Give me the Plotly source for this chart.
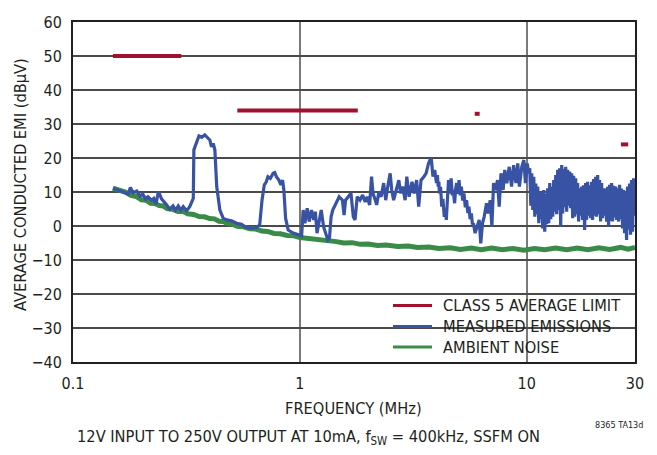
import plotly.graph_objects as go

# ---------------- data ----------------
# CISPR-25 class 5 average limit segments (MHz, dBuV)
limit_f_start = [0.15, 0.53, 5.9, 26.0]
limit_f_end = [0.30, 1.8, 6.2, 28.0]
limit_db = [50, 34, 33, 24]

# Ambient noise
ambient_f = [0.150, 0.160, 0.170, 0.180, 0.190, 0.200, 0.210, 0.220, 0.230, 0.240,
             0.250, 0.260, 0.275, 0.290, 0.305, 0.320, 0.340, 0.360, 0.380, 0.400,
             0.420, 0.440, 0.460, 0.480, 0.500, 0.530, 0.560, 0.600, 0.640, 0.680,
             0.720, 0.770, 0.820, 0.880, 0.940, 1.000, 1.080, 1.160, 1.250, 1.350,
             1.450, 1.560, 1.700, 1.850, 2.000, 2.200, 2.400, 2.700, 3.000, 3.300,
             3.700, 4.100, 4.600, 5.100, 5.700, 6.300, 7.000, 7.800, 8.700, 9.700,
             10.8, 12.0, 13.4, 15.0, 16.7, 18.6, 20.8, 23.2, 25.9, 28.0, 30.0]
ambient_db = [11.1, 10.5, 10.0, 9.0, 8.7, 7.7, 7.6, 6.7, 6.6, 6.0,
              5.9, 5.1, 4.9, 4.3, 4.3, 3.6, 3.4, 2.8, 2.7, 2.2,
              2.1, 1.4, 1.3, 0.7, 0.6, -0.1, -0.2, -0.8, -0.9, -1.5,
              -1.6, -2.2, -2.3, -2.8, -2.9, -3.4, -3.6, -4.0, -4.1, -4.5,
              -4.6, -5.0, -4.9, -5.4, -5.3, -5.7, -5.6, -6.0, -5.9, -6.3,
              -6.2, -6.6, -6.4, -6.9, -6.5, -7.0, -6.5, -7.0, -6.6, -7.1,
              -6.6, -7.0, -6.5, -7.0, -6.5, -7.0, -6.4, -6.9, -6.3, -6.8, -6.3]

# Measured emissions, read piecewise
emis_f_1 = [0.150, 0.175, 0.179, 0.184, 0.191, 0.197, 0.203, 0.209, 0.214, 0.222, 0.227, 0.232,
            0.238, 0.246, 0.259, 0.267, 0.276, 0.283, 0.291, 0.299, 0.306, 0.317, 0.327, 0.339]
emis_db_1 = [11.1, 9.4, 11.3, 9.8, 10.3, 8.8, 9.4, 7.9, 8.6, 7.6, 8.1, 6.4,
             10.1, 7.9, 6.2, 4.9, 5.9, 4.7, 5.9, 4.7, 5.7, 4.5, 5.7, 8.1]
emis_f_2 = [0.341, 0.354, 0.359, 0.369, 0.381, 0.390, 0.401, 0.408, 0.415, 0.422, 0.430,
            0.444, 0.459, 0.476, 0.500, 0.526, 0.553, 0.572, 0.592, 0.613, 0.643, 0.665]
emis_db_2 = [22.4, 25.3, 26.5, 26.1, 26.8, 26.1, 25.3, 23.3, 24.3, 22.4, 11.6,
             4.7, 2.3, 1.8, 1.5, 0.8, 0.5, -0.2, -0.5, -0.7, -0.5, 0.3]
emis_f_3 = [0.681, 0.697, 0.711, 0.723, 0.741, 0.762, 0.775, 0.788, 0.808, 0.825, 0.839,
            0.850, 0.865, 0.888, 0.935, 0.984, 1.018]
emis_db_3 = [7.6, 12.1, 13.0, 14.5, 14.0, 15.5, 15.7, 14.5, 13.5, 12.1, 13.5,
             10.6, 2.3, -1.2, -2.1, -2.6, -2.9]
emis_f_4 = [1.034, 1.052, 1.077, 1.099, 1.125, 1.151, 1.170, 1.190, 1.223, 1.242, 1.272,
            1.298, 1.328, 1.350, 1.373, 1.396, 1.443]
emis_db_4 = [4.7, 0.8, 5.2, 1.3, 4.7, 1.8, 4.2, -2.1, 2.3, 4.7, -0.2,
             -2.1, -4.1, -3.6, 2.7, 4.7, 6.7]
emis_f_5 = [1.490, 1.540, 1.566, 1.590, 1.640, 1.680, 1.720, 1.750, 1.790, 1.840,
            1.890, 1.940, 1.980, 2.030, 2.070, 2.100, 2.150, 2.180, 2.230, 2.280,
            2.340, 2.390, 2.440, 2.500, 2.540, 2.590, 2.660, 2.730, 2.780, 2.840,
            2.910, 2.960]
emis_db_5 = [8.6, 7.6, 3.2, 7.6, 8.6, 9.6, 2.7, 1.8, 8.6, 7.6,
             9.1, 7.1, 8.6, 6.2, 14.5, 9.6, 7.6, 6.2, 10.1, 8.6,
             12.6, 7.6, 11.6, 15.5, 10.6, 7.6, 10.6, 13.5, 9.6, 11.6,
             7.6, 14.5]
emis_f_6 = [3.030, 3.120, 3.190, 3.270, 3.340, 3.420, 3.520, 3.600, 3.690, 3.770,
            3.800, 3.860, 3.930, 4.000, 4.040, 4.070, 4.100, 4.120, 4.170, 4.220,
            4.270, 4.330, 4.380, 4.420]
emis_db_6 = [8.6, 13.0, 9.6, 13.5, 5.7, 13.5, 14.5, 15.5, 18.4, 19.9,
             19.4, 14.5, 16.5, 12.6, 15.0, 11.6, 13.0, 9.6, 11.5, 5.7,
             8.0, 2.7, 5.0, 1.8]
emis_f_7 = [4.520, 4.580, 4.640, 4.700, 4.740, 4.810, 4.860, 4.910, 4.970, 5.030,
            5.090, 5.150, 5.220, 5.290, 5.360, 5.430, 5.500, 5.560, 5.630, 5.700,
            5.760, 5.820, 5.920, 6.060, 6.170, 6.270, 6.380, 6.490, 6.570, 6.650,
            6.760, 6.900, 7.020]
emis_db_7 = [13.5, 9.5, 14.0, 9.0, 10.6, 6.7, 11.0, 12.6, 9.5, 13.5,
             9.0, 11.6, 7.5, 9.6, 5.5, 7.6, 3.8, 5.7, 2.0, 3.7,
             0.5, 0.8, -2.1, -0.2, 1.8, -5.1, 0.8, 2.7, 5.0, 6.7,
             3.7, 7.6, -0.2]
emis_f_8 = [7.140, 7.310, 7.430, 7.560, 7.700, 7.870, 8.000, 8.170, 8.370, 8.570,
            8.750, 8.960, 9.130, 9.280, 9.510, 9.710, 9.870, 10.05, 10.20]
emis_db_8 = [12.6, 10.6, 13.5, 5.7, 15.5, 10.6, 16.5, 12.6, 17.4, 11.6,
             17.9, 12.6, 18.4, 11.6, 17.4, 19.4, 12.6, 18.4, 15.5]
emis_f_9 = [10.31, 10.42, 10.52, 10.63, 10.74, 10.85, 10.96, 11.07, 11.18, 11.30,
            11.41, 11.53, 11.64, 11.76, 11.88, 12.00, 12.13, 12.25, 12.37, 12.50,
            12.63, 12.76, 12.89, 13.02, 13.15, 13.28, 13.42, 13.55, 13.69, 13.83,
            13.97, 14.11, 14.26, 14.40, 14.55, 14.70, 14.85, 15.00, 15.15, 15.30,
            15.46, 15.62, 15.78, 15.94, 16.10, 16.26, 16.43, 16.59, 16.76, 16.93,
            17.11, 17.28, 17.46, 17.63, 17.81, 17.99, 18.18, 18.36, 18.55, 18.74,
            18.93, 19.12, 19.32, 19.51, 19.71, 19.91, 20.12, 20.32, 20.53, 20.74,
            20.95, 21.16, 21.38, 21.60, 21.82, 22.04, 22.26, 22.49, 22.72, 22.95,
            23.18, 23.42, 23.66, 23.90, 24.14, 24.39, 24.64, 24.89, 25.14, 25.40,
            25.66, 25.92, 26.18, 26.45, 26.72, 26.99, 27.26, 27.54, 27.82, 28.11,
            28.39, 28.68, 28.97, 29.27, 29.57, 29.87]
emis_db_9 = [17.0, 6.0, 15.5, 4.7, 14.5, 2.7, 12.5, 3.5, 11.6, 0.8,
             9.6, 2.0, 10.0, -0.7, 10.6, -1.7, 9.5, 0.5, 11.1, 0.8,
             12.6, 2.0, 11.5, 2.7, 13.5, 4.2, 15.0, 3.5, 16.5, 4.7,
             17.0, -0.2, 17.9, 3.7, 16.8, 5.5, 17.4, 4.2, 16.5, 6.0,
             16.0, 5.2, 15.5, 2.3, 14.8, 2.7, 14.0, 3.5, 12.6, 1.3,
             11.1, 3.0, 11.6, 1.8, 12.0, -1.2, 12.6, 1.8, 13.0, 3.0,
             12.0, 2.3, 13.0, 1.8, 13.8, 3.0, 14.5, 2.7, 15.0, 3.5,
             13.5, 1.3, 12.6, 2.3, 11.1, 3.0, 11.0, 1.3, 11.5, -0.2,
             12.1, 1.5, 12.6, 1.3, 11.8, 2.5, 11.6, 1.8, 11.1, 1.3,
             12.1, 2.0, 11.0, -0.7, 10.6, -2.1, 10.1, -4.1, 11.6, -1.0,
             12.5, -2.6, 13.5, -1.7, 14.0, 3.0]

x_tick_vals = [0.1, 1, 10, 30]
x_tick_text = ["0.1", "1", "10", "30"]

legend_names = ["CLASS 5 AVERAGE LIMIT", "MEASURED EMISSIONS", "AMBIENT NOISE"]

# ---------------- styling ----------------
FONT = "'Liberation Sans Narrow', 'DejaVu Sans Condensed', 'Roboto Condensed', 'Arial Narrow', 'Liberation Sans', sans-serif"
TXT = "#231F20"
C_LIMIT = "#A0112F"
C_EMIS = "#3953A4"
C_AMB = "#3A8B47"
FS = 16.3

W, H = 657, 455
L, R, T, B = 73, 22, 22, 93
PW, PH = W - L - R, H - T - B


def px(x):
    return (x - L) / PW


def py(y):
    return (H - B - y) / PH


emis_f = emis_f_1 + emis_f_2 + emis_f_3 + emis_f_4 + emis_f_5 + emis_f_6 + emis_f_7 + emis_f_8 + emis_f_9
emis_db = emis_db_1 + emis_db_2 + emis_db_3 + emis_db_4 + emis_db_5 + emis_db_6 + emis_db_7 + emis_db_8 + emis_db_9

lim_x, lim_y = [], []
for a, b, v in zip(limit_f_start, limit_f_end, limit_db):
    lim_x += [a, b, None]
    lim_y += [v, v, None]

fig = go.Figure()
fig.add_trace(go.Scatter(x=ambient_f, y=ambient_db, mode="lines", name=legend_names[2],
                         line=dict(color=C_AMB, width=5), showlegend=False))
fig.add_trace(go.Scatter(x=emis_f, y=emis_db, mode="lines", name=legend_names[1],
                         line=dict(color=C_EMIS, width=3.2), showlegend=False))
fig.add_trace(go.Scatter(x=lim_x, y=lim_y, mode="lines", name=legend_names[0],
                         line=dict(color=C_LIMIT, width=4), showlegend=False))

fig.update_layout(
    width=W, height=H,
    margin=dict(l=L, r=R, t=T, b=B, autoexpand=False),
    paper_bgcolor="white", plot_bgcolor="white",
    font=dict(family=FONT, size=FS, color=TXT),
    showlegend=False,
)
fig.update_xaxes(type="log", range=[-1, 1.4771212547], tickvals=x_tick_vals, ticktext=x_tick_text,
                 showgrid=True, gridcolor="#7a7a7a", gridwidth=1.5,
                 showline=True, mirror=True, linecolor=TXT, linewidth=2,
                 ticks="", zeroline=False, automargin=False, ticklabelstandoff=6,
                 tickfont=dict(size=16))
fig.update_yaxes(range=[-40, 60], dtick=10, showgrid=True, gridcolor="#4a4a4a", gridwidth=1.5,
                 showline=True, mirror=True, linecolor=TXT, linewidth=2,
                 ticks="", zeroline=False, automargin=False, ticklabelstandoff=6,
                 tickfont=dict(size=16))

# legend panel (white box over the grid) with samples and labels
fig.add_shape(type="rect", xref="paper", yref="paper", x0=px(384), x1=px(634), y0=py(290), y1=py(361),
              fillcolor="white", line=dict(width=0), layer="between")
colors = [C_LIMIT, C_EMIS, C_AMB]
rows = [305.5, 326.5, 347]
for name, c, ry in zip(legend_names, colors, rows):
    fig.add_shape(type="line", xref="paper", yref="paper", x0=px(393), x1=px(432), y0=py(ry), y1=py(ry),
                  line=dict(color=c, width=3), layer="above")
    fig.add_annotation(xref="paper", yref="paper", x=px(441), y=py(ry), text=name, showarrow=False,
                       xanchor="left", yanchor="middle", font=dict(size=FS, color=TXT))

fig.add_annotation(xref="paper", yref="paper", x=px(20), y=py(185), text="AVERAGE CONDUCTED EMI (dBμV)",
                   textangle=-90, showarrow=False, xanchor="center", yanchor="middle", font=dict(size=FS))
fig.add_annotation(xref="paper", yref="paper", x=px(353), y=py(408), text="FREQUENCY (MHz)",
                   showarrow=False, xanchor="center", yanchor="middle", font=dict(size=FS))
fig.add_annotation(xref="paper", yref="paper", x=px(308.5), y=py(437),
                   text="12V INPUT TO 250V OUTPUT AT 10mA, f<sub>SW</sub> = 400kHz, SSFM ON",
                   showarrow=False, xanchor="center", yanchor="middle", font=dict(size=FS))
fig.add_annotation(xref="paper", yref="paper", x=px(645), y=py(425), text="8365 TA13d",
                   showarrow=False, xanchor="right", yanchor="middle", font=dict(size=9))

fig.write_html("out.html", config={"displayModeBar": False},
               post_script="document.body.style.margin='0px';document.body.style.overflow='hidden';")
